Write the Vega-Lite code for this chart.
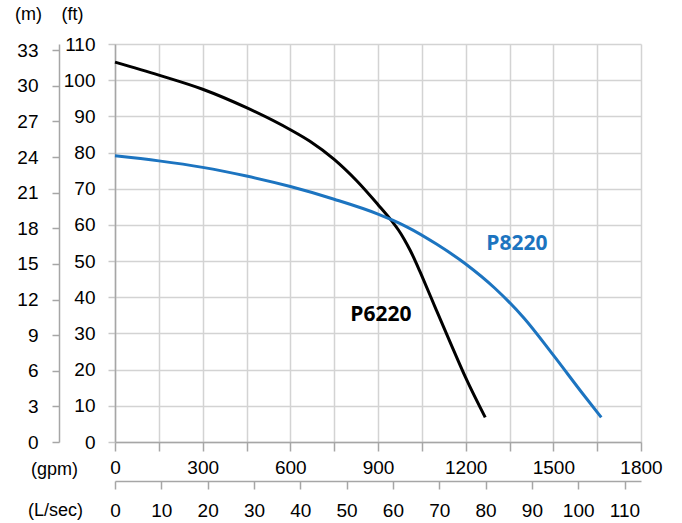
{
  "$schema": "https://vega.github.io/schema/vega-lite/v6.json",
  "width": 526,
  "height": 398,
  "autosize": {"type": "none"},
  "padding": {"left": 115, "top": 44, "right": 41, "bottom": 81},
  "background": "white",
  "config": {
    "view": {"stroke": null},
    "axis": {
      "labelFont": "Liberation Sans",
      "labelFontSize": 19,
      "labelColor": "#000000",
      "titleFont": "Liberation Sans",
      "titleFontSize": 18,
      "titleFontWeight": "normal",
      "titleColor": "#000000",
      "labelFlush": false,
      "labelOverlap": false,
      "domainColor": "#a6a6a6",
      "tickColor": "#a6a6a6",
      "domainWidth": 1.5,
      "tickWidth": 1.5
    }
  },
  "datasets": {
    "curves": [
      {"pump": "P6220", "gpm": 0, "ft": 105.0},
      {"pump": "P6220", "gpm": 150, "ft": 101.4},
      {"pump": "P6220", "gpm": 300, "ft": 97.5},
      {"pump": "P6220", "gpm": 450, "ft": 92.4},
      {"pump": "P6220", "gpm": 600, "ft": 86.3},
      {"pump": "P6220", "gpm": 667, "ft": 83.1},
      {"pump": "P6220", "gpm": 750, "ft": 78.1},
      {"pump": "P6220", "gpm": 827, "ft": 72.2},
      {"pump": "P6220", "gpm": 900, "ft": 65.6},
      {"pump": "P6220", "gpm": 947, "ft": 61.1},
      {"pump": "P6220", "gpm": 970, "ft": 58.6},
      {"pump": "P6220", "gpm": 990, "ft": 56.0},
      {"pump": "P6220", "gpm": 1010, "ft": 53.0},
      {"pump": "P6220", "gpm": 1030, "ft": 49.6},
      {"pump": "P6220", "gpm": 1050, "ft": 45.9},
      {"pump": "P6220", "gpm": 1100, "ft": 36.4},
      {"pump": "P6220", "gpm": 1150, "ft": 27.0},
      {"pump": "P6220", "gpm": 1200, "ft": 17.8},
      {"pump": "P6220", "gpm": 1267, "ft": 6.8},
      {"pump": "P8220", "gpm": 0, "ft": 79.1},
      {"pump": "P8220", "gpm": 150, "ft": 77.7},
      {"pump": "P8220", "gpm": 300, "ft": 75.9},
      {"pump": "P8220", "gpm": 450, "ft": 73.5},
      {"pump": "P8220", "gpm": 600, "ft": 70.6},
      {"pump": "P8220", "gpm": 750, "ft": 67.1},
      {"pump": "P8220", "gpm": 900, "ft": 63.0},
      {"pump": "P8220", "gpm": 950, "ft": 61.3},
      {"pump": "P8220", "gpm": 1000, "ft": 59.4},
      {"pump": "P8220", "gpm": 1100, "ft": 54.7},
      {"pump": "P8220", "gpm": 1200, "ft": 49.2},
      {"pump": "P8220", "gpm": 1300, "ft": 42.5},
      {"pump": "P8220", "gpm": 1400, "ft": 34.2},
      {"pump": "P8220", "gpm": 1500, "ft": 24.0},
      {"pump": "P8220", "gpm": 1600, "ft": 13.4},
      {"pump": "P8220", "gpm": 1664, "ft": 6.8}
    ],
    "labels": [
      {"pump": "P6220", "gpm": 910, "ft": 35.0},
      {"pump": "P8220", "gpm": 1375, "ft": 54.8}
    ],
    "meters": [{"m": 0}, {"m": 33}],
    "lps": [{"lps": 0}, {"lps": 110}]
  },
  "layer": [
    {
      "data": {"name": "curves"},
      "mark": {"type": "line", "strokeWidth": 3, "interpolate": "monotone"},
      "encoding": {
        "x": {
          "field": "gpm", "type": "quantitative",
          "scale": {"domain": [0, 1800], "nice": false, "zero": false},
          "axis": {
            "values": [0, 150, 300, 450, 600, 750, 900, 1050, 1200, 1350, 1500, 1650, 1800],
            "labelExpr": "datum.value % 300 == 0 ? datum.label : ''",
            "format": "d",
            "grid": true, "gridColor": "#d3d3d3", "gridWidth": 1.5,
            "tickSize": 9, "labelPadding": 7,
            "title": "(gpm)", "titleAngle": 0, "titleAlign": "center", "titleBaseline": "middle",
            "titleX": -61, "titleY": 27
          }
        },
        "y": {
          "field": "ft", "type": "quantitative",
          "scale": {"domain": [0, 110], "nice": false, "zero": false},
          "axis": {
            "values": [0, 10, 20, 30, 40, 50, 60, 70, 80, 90, 100, 110],
            "grid": true, "gridColor": "#d3d3d3", "gridWidth": 1.5,
            "tickSize": 7, "tickColor": "#c8c8c8", "labelPadding": 13,
            "title": "(ft)", "titleAngle": 0, "titleAlign": "center", "titleBaseline": "middle",
            "titleX": -43, "titleY": -30
          }
        },
        "color": {
          "field": "pump", "type": "nominal",
          "scale": {"domain": ["P6220", "P8220"], "range": ["#000000", "#1c74c0"]},
          "legend": null
        }
      }
    },
    {
      "data": {"name": "labels"},
      "mark": {"type": "text", "font": "Open Sans", "fontSize": 21, "fontWeight": "bold", "align": "center", "baseline": "middle"},
      "encoding": {
        "x": {"field": "gpm", "type": "quantitative", "scale": {"domain": [0, 1800], "nice": false, "zero": false}, "axis": null},
        "y": {"field": "ft", "type": "quantitative", "scale": {"domain": [0, 110], "nice": false, "zero": false}, "axis": null},
        "text": {"field": "pump"},
        "color": {
          "field": "pump", "type": "nominal",
          "scale": {"domain": ["P6220", "P8220"], "range": ["#000000", "#1c74c0"]},
          "legend": null
        }
      }
    },
    {
      "data": {"name": "meters"},
      "mark": {"type": "point", "opacity": 0},
      "encoding": {
        "y": {
          "field": "m", "type": "quantitative",
          "scale": {"domain": [0, 33.528], "nice": false, "zero": false},
          "axis": {
            "orient": "left", "offset": 56,
            "values": [0, 3, 6, 9, 12, 15, 18, 21, 24, 27, 30, 33],
            "grid": false, "tickSize": 7, "labelPadding": 14,
            "title": "(m)", "titleAngle": 0, "titleAlign": "center", "titleBaseline": "middle",
            "titleX": -31, "titleY": -30
          }
        }
      }
    },
    {
      "data": {"name": "lps"},
      "mark": {"type": "point", "opacity": 0},
      "encoding": {
        "x": {
          "field": "lps", "type": "quantitative",
          "scale": {"domain": [0, 113.56], "nice": false, "zero": false},
          "axis": {
            "orient": "bottom", "offset": 39,
            "values": [0, 10, 20, 30, 40, 50, 60, 70, 80, 90, 100, 110],
            "grid": false, "tickSize": 8, "labelPadding": 12,
            "title": "(L/sec)", "titleAngle": 0, "titleAlign": "center", "titleBaseline": "middle",
            "titleX": -60, "titleY": 29
          }
        }
      }
    }
  ],
  "resolve": {"scale": {"x": "independent", "y": "independent", "color": "shared"}}
}
